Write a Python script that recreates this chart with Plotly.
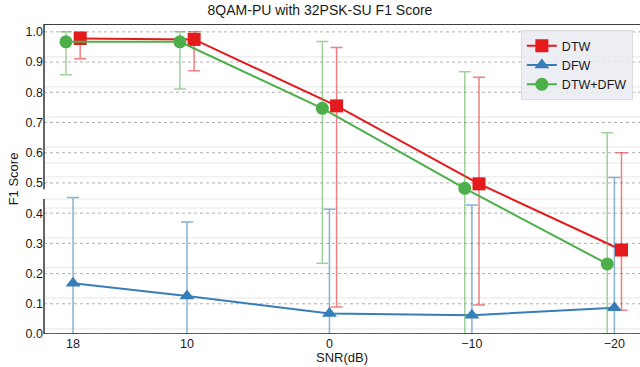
import plotly.graph_objects as go

snr = [18, 10, 0, -10, -20]
series_names = ["DTW", "DFW", "DTW+DFW"]
dtw_mean = [0.978, 0.975, 0.755, 0.497, 0.278]
dtw_upper = [1.0, 1.0, 0.948, 0.850, 0.600]
dtw_lower = [0.911, 0.871, 0.089, 0.096, 0.079]
dfw_mean = [0.168, 0.126, 0.068, 0.062, 0.087]
dfw_upper = [0.452, 0.371, 0.413, 0.427, 0.518]
dfw_lower = [0.0, 0.0, 0.0, 0.0, 0.0]
both_mean = [0.967, 0.967, 0.747, 0.482, 0.232]
both_upper = [1.0, 1.0, 0.968, 0.868, 0.666]
both_lower = [0.858, 0.811, 0.234, 0.0, 0.0]
y_ticks = [0.0, 0.1, 0.2, 0.3, 0.4, 0.5, 0.6, 0.7, 0.8, 0.9, 1.0]
light_grid = [0.917, 0.818, 0.718, 0.619, 0.566, 0.520, 0.447, 0.417, 0.318, 0.219, 0.119, 0.017]

FONT = "Liberation Sans, Arial, sans-serif"
fig = go.Figure()

specs = [
    (series_names[0], dtw_mean, dtw_upper, dtw_lower, -0.5, "#e41a1c", "rgba(228,26,28,0.55)", "square"),
    (series_names[1], dfw_mean, dfw_upper, dfw_lower, 0.0, "#377eb8", "rgba(55,126,184,0.6)", "triangle-up"),
    (series_names[2], both_mean, both_upper, both_lower, 0.5, "#4daf4a", "rgba(77,175,74,0.55)", "circle"),
]
for name, m, up, lo, off, col, ecol, sym in specs:
    fig.add_trace(go.Scatter(
        x=[s + off for s in snr], y=m, name=name, mode="lines+markers",
        line=dict(color=col, width=2),
        marker=dict(symbol=sym, size=13, color=col),
        error_y=dict(type="data", symmetric=False,
                     array=[u - v for u, v in zip(up, m)],
                     arrayminus=[v - l for v, l in zip(m, lo)],
                     color=ecol, thickness=1.5, width=6),
    ))

shapes = []
for g in light_grid:
    shapes.append(dict(type="line", xref="paper", x0=0, x1=1, yref="y", y0=g, y1=g,
                       line=dict(color="#e6e6e6", width=1), layer="below"))
for t in y_ticks:
    shapes.append(dict(type="line", xref="paper", x0=0, x1=1, yref="y", y0=t, y1=t,
                       line=dict(color="#b0b0b0", width=1, dash="dot"), layer="below"))
# spines
shapes.append(dict(type="line", xref="paper", x0=0, x1=1, yref="y", y0=1.026, y1=1.026,
                   line=dict(color="#000000", width=1.5)))
shapes.append(dict(type="line", xref="paper", x0=0, x1=0, yref="y", y0=0, y1=0.447,
                   line=dict(color="#333333", width=1.5)))
shapes.append(dict(type="line", xref="paper", x0=0, x1=0, yref="y", y0=0.479, y1=1.026,
                   line=dict(color="#333333", width=1.5)))
shapes.append(dict(type="line", xref="paper", x0=0, x1=1, yref="y", y0=0, y1=0,
                   line=dict(color="#333333", width=1.5)))

fig.update_layout(
    width=640, height=367,
    margin=dict(l=44, r=0, t=24, b=33),
    paper_bgcolor="white", plot_bgcolor="white",
    font=dict(family=FONT, size=12, color="#1a1a1a"),
    title=dict(text="8QAM-PU with 32PSK-SU F1 Score", x=0.5, xanchor="center",
               y=0.985, yanchor="top", font=dict(size=14, color="#1a1a1a")),
    shapes=shapes,
    showlegend=True,
    legend=dict(x=0.988, xanchor="right", y=0.98, yanchor="top",
                bgcolor="rgba(234,234,242,0.85)", bordercolor="#dcdcdc", borderwidth=1,
                font=dict(size=12.5, color="#1a1a1a"), itemwidth=30,
                tracegroupgap=0),
)
fig.update_xaxes(range=[20.04, -21.8], tickvals=snr,
                 ticktext=[str(s).replace("-", "\u2212") for s in snr],
                 showgrid=False, zeroline=False, showline=False, ticks="",
                 title=dict(text="SNR(dB)", standoff=2, font=dict(size=13)),
                 tickfont=dict(size=12.5))
fig.update_yaxes(range=[0, 1.026], tickvals=y_ticks,
                 ticktext=[f"{t:.1f}" for t in y_ticks],
                 showgrid=False, zeroline=False, showline=False, ticks="",
                 title=dict(text="F1 Score", standoff=4, font=dict(size=13)),
                 tickfont=dict(size=12.5))

fig.write_html("out.html", config={"displayModeBar": False},
               post_script="document.body.style.margin='0px';")
